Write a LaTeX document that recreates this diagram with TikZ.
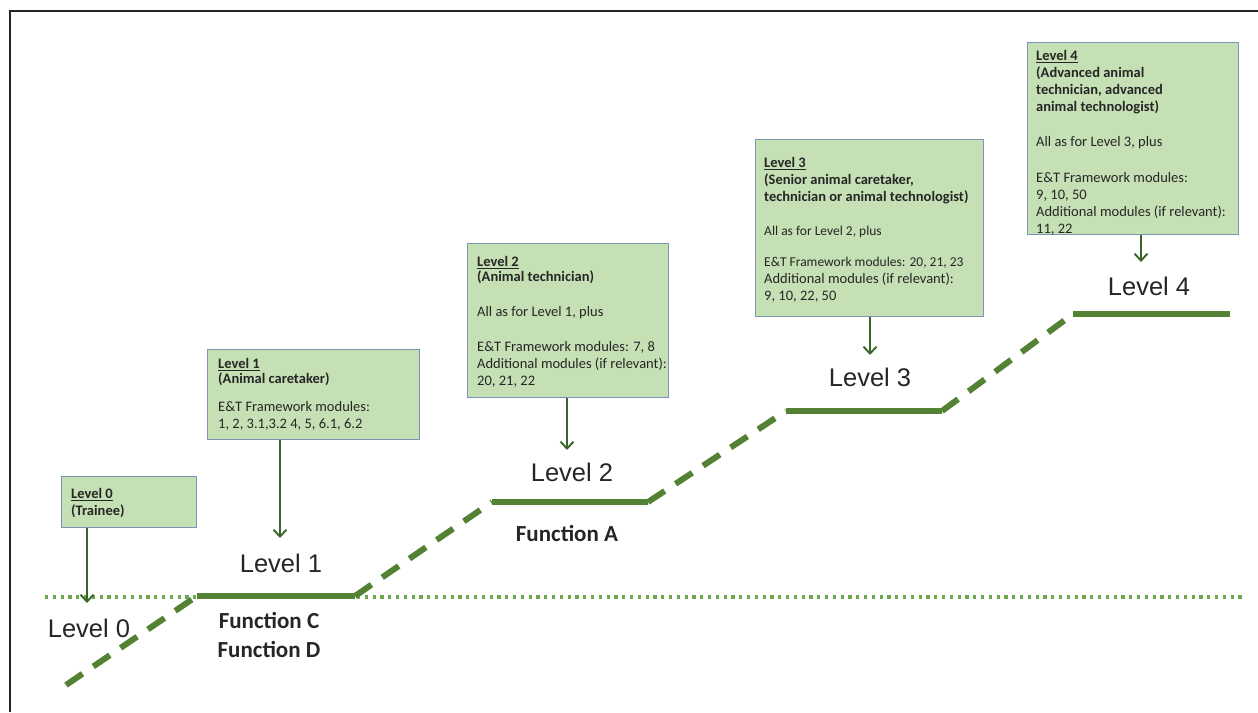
\documentclass[tikz,border=0pt]{standalone}
\usepackage{fontspec}
\setmainfont{Carlito}
\newfontfamily\arialf{Liberation Sans}
\usetikzlibrary{arrows.meta}
\definecolor{boxfill}{HTML}{C5E0B4}
\definecolor{boxborder}{HTML}{7F93B5}
\definecolor{arrowc}{HTML}{3A6528}
\definecolor{linec}{HTML}{548235}
\definecolor{dotc}{HTML}{6AA84F}
\definecolor{textc}{HTML}{262626}
\tikzset{
  box/.style={draw=boxborder, fill=boxfill, line width=1.2pt, anchor=north west, inner sep=0pt},
  boxtext/.style={anchor=north west, inner sep=0pt, align=left, text=textc, font=\fontsize{14.5}{17}\selectfont},
  lvl/.style={text=textc, inner sep=0pt, font=\arialf\fontsize{25.5}{28}\selectfont},
  func/.style={text=textc, inner sep=0pt, font=\bfseries\fontsize{23}{29}\selectfont, align=center},
  arr/.style={draw=arrowc, line width=2.4pt, -{Straight Barb[length=7pt,width=13pt,line width=1.9pt]}},
  solidline/.style={draw=linec, line width=6pt},
  dashline/.style={draw=linec, line width=6pt, dash pattern=on 20pt off 13pt},
  dotline/.style={draw=dotc, line width=3.2pt, dash pattern=on 3.2pt off 4.6pt},
  frame/.style={draw=black!85, line width=2.5pt}
}
\begin{document}
\begin{tikzpicture}[x=1pt,y=-1pt]
\useasboundingbox (0,0) rectangle (1258,712);
\draw[frame] (10,712) -- (10,11) -- (1258,11);

% reference dotted line
\coordinate (d0) at (45,597);
\coordinate (d1) at (1245,597);
\draw[dotline] (d0) -- (d1);

% steps
\coordinate (s0) at (66,685);
\coordinate (l1a) at (197,596);
\coordinate (l1b) at (355,596);
\coordinate (l2a) at (492,502);
\coordinate (l2b) at (648,502);
\coordinate (l3a) at (786,411);
\coordinate (l3b) at (942,411);
\coordinate (l4a) at (1073,314);
\coordinate (l4b) at (1230,314);
\draw[dashline] (s0) -- (l1a);
\draw[dashline] (l1b) -- (l2a);
\draw[dashline] (l2b) -- (l3a);
\draw[dashline] (l3b) -- (l4a);
\draw[solidline] (l1a) -- (l1b);
\draw[solidline] (l2a) -- (l2b);
\draw[solidline] (l3a) -- (l3b);
\draw[solidline] (l4a) -- (l4b);

% boxes
\node[box, minimum width=135pt, minimum height=51pt] (b0) at (61,476) {};
\node[boxtext] (t0) at (71,488) {\textbf{\underline{Level 0}}\\\textbf{(Trainee)}};

\node[box, minimum width=212pt, minimum height=90pt] (b1) at (207,349) {};
\node[boxtext] (t1) at (218,358) {\textbf{\underline{Level 1}}\\[-2pt]\textbf{(Animal caretaker)}\\[11pt]E\&T Framework modules:\\1, 2, 3.1,3.2 4, 5, 6.1, 6.2};

\node[box, minimum width=201pt, minimum height=154pt] (b2) at (467,243) {};
\node[boxtext] (t2) at (477,256) {\textbf{\underline{Level 2}}\\[-2pt]\textbf{(Animal technician)}\\[18pt]All as for Level 1, plus\\[18pt]E\&T Framework modules: 7, 8\\Additional modules (if relevant):\\20, 21, 22};

\node[box, minimum width=228pt, minimum height=177pt] (b3) at (755,139) {};
\node[boxtext] (t3) at (764,157) {\textbf{\underline{Level 3}}\\\textbf{(Senior animal caretaker,}\\\textbf{technician or animal technologist)}\\[17pt]{\fontsize{13.5}{17}\selectfont All as for Level 2, plus}\\[14pt]{\fontsize{13.5}{17}\selectfont E\&T Framework modules: 20, 21, 23}\\Additional modules (if relevant):\\9, 10, 22, 50};

\node[box, minimum width=211pt, minimum height=192pt] (b4) at (1027,42) {};
\node[boxtext] (t4) at (1036,50) {\textbf{\underline{Level 4}}\\\textbf{(Advanced animal}\\\textbf{technician, advanced}\\\textbf{animal technologist)}\\[18pt]All as for Level 3, plus\\[19pt]E\&T Framework modules:\\9, 10, 50\\Additional modules (if relevant):\\11, 22};

% level labels
\node[lvl] (L0) at (89,628) {Level 0};
\node[lvl] (L1) at (281,563) {Level 1};
\node[lvl] (L2) at (572,472) {Level 2};
\node[lvl] (L3) at (870,377) {Level 3};
\node[lvl] (L4) at (1149,286) {Level 4};

% function labels
\node[func] (fCD) at (269,635) {Function C\\Function D};
\node[func] (fA) at (567,533) {Function A};

% arrows
\coordinate (a0) at (87,603);
\coordinate (a1) at (280,538);
\coordinate (a2) at (567,450);
\coordinate (a3) at (870,355);
\coordinate (a4) at (1141,262);
\draw[arr] (b0.south -| a0) -- (a0);
\draw[arr] (b1.south -| a1) -- (a1);
\draw[arr] (b2.south -| a2) -- (a2);
\draw[arr] (b3.south -| a3) -- (a3);
\draw[arr] (b4.south -| a4) -- (a4);
\end{tikzpicture}
\end{document}
